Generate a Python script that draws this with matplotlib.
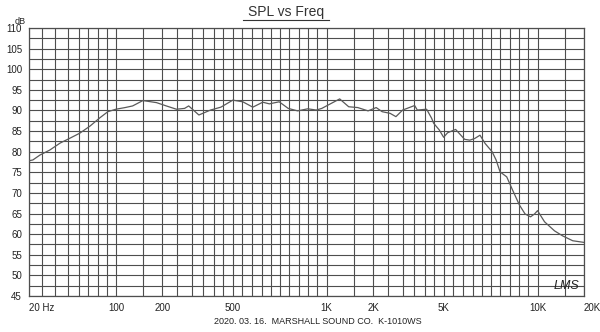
import numpy as np
import matplotlib
matplotlib.use("Agg")
import matplotlib.pyplot as plt
from matplotlib.lines import Line2D

plt.rcParams['font.family'] = ['Liberation Sans', 'DejaVu Sans']

# ---------------- data ----------------
freq_hz = [20, 23, 28.5, 36, 44, 52, 61, 72, 82, 91, 100, 117, 131, 150, 185, 213,
           247, 275, 289, 332, 385, 439, 500, 555, 605, 655, 690, 744, 794, 844,
           900, 945, 974, 1240, 1407, 1605, 1868, 2100, 2300, 2567, 2767, 3000,
           3545, 3667, 4111, 4389, 4500, 4778, 5000, 5222, 5650, 6100, 6361, 6611,
           6889, 7167, 7556, 7778, 8000, 8350, 8667, 9042, 9342, 9632, 9842, 10000,
           11296, 13148, 14630, 17105, 20000]
spl_db = [77.8, 78.0, 79.2, 80.4, 82.1, 83.3, 84.5, 86.2, 88.2, 89.7, 90.3, 90.7,
          91.1, 92.4, 91.9, 91.1, 90.3, 90.5, 91.1, 88.9, 90.1, 90.8, 92.5, 92.1,
          90.8, 92.0, 91.6, 92.1, 90.5, 89.9, 90.4, 90.1, 90.5, 92.8, 90.9, 90.7,
          89.9, 90.7, 89.7, 89.3, 88.5, 90.1, 91.2, 90.1, 90.3, 88.1, 86.9, 85.3,
          83.5, 84.6, 85.4, 83.0, 82.8, 83.2, 84.0, 82.0, 80.0, 78.0, 75.1, 73.9,
          70.7, 67.1, 64.9, 64.2, 64.9, 65.7, 63.0, 60.8, 59.6, 58.4, 58.0]

x_tick_freqs = [20, 100, 200, 500, 1000, 2000, 5000, 10000, 20000]
x_tick_labels = ['20 Hz', '100', '200', '500', '1K', '2K', '5K', '10K', '20K']
y_tick_values = list(range(45, 111, 5))
y_tick_labels = [str(v) for v in y_tick_values]

title_text = 'SPL vs Freq'
footer_text = '2020. 03. 16.  MARSHALL SOUND CO.  K-1010WS'

# ------------- chart's frequency scale (grid of the printed chart) -------------
low_freqs = [20, 30, 40, 50, 60, 70, 80, 90]
low_pos = [0, 13, 26, 39, 50, 59, 69, 78]
mant = [1, 1.5, 2, 2.5, 3, 3.5, 4, 4.5, 5, 5.5, 6, 6.5, 7, 7.5, 8, 8.5, 9, 9.5]
mant_pos = [0, 27, 46.5, 61.5, 76, 87, 98, 107, 117, 126, 136, 146, 155.5,
            164.5, 173.5, 183, 192, 201.5]
DEC = 211.0
anchor_f = list(low_freqs)
anchor_p = list(low_pos)
for k, base in enumerate([100, 1000]):
    for m, p in zip(mant, mant_pos):
        anchor_f.append(base * m)
        anchor_p.append(87 + k * DEC + p)
for m, p in zip(mant[:3], mant_pos[:3]):
    anchor_f.append(10000 * m)
    anchor_p.append(87 + 2 * DEC + p)
anchor_f = np.array(anchor_f, float)
anchor_p = np.array(anchor_p, float)
grid_freqs = anchor_f.copy()


def fwd(f):
    return np.interp(np.asarray(f, float), anchor_f, anchor_p)


def inv(p):
    return np.interp(np.asarray(p, float), anchor_p, anchor_f)


# ---------------- figure ----------------
fig = plt.figure(figsize=(6.0, 3.32), dpi=100)
ax = fig.add_axes([29 / 600, 1 - 296 / 332, 555 / 600, 268 / 332])
ax.set_xscale('function', functions=(fwd, inv))
ax.set_xlim(20, 20000)
ax.set_ylim(45, 110)

gcol = '#4e4e4e'
ax.set_xticks(x_tick_freqs)
ax.set_xticklabels(x_tick_labels)
ax.set_xticks(grid_freqs, minor=True)
ax.set_yticks(y_tick_values)
ax.set_yticklabels(y_tick_labels)
ax.set_yticks(np.arange(47.5, 110, 5), minor=True)
ax.tick_params(which='both', length=0)
ax.tick_params(axis='x', pad=5, labelsize=7, labelcolor='#222222')
ax.tick_params(axis='y', pad=5, labelsize=7, labelcolor='#222222')
ax.grid(True, which='both', color=gcol, lw=0.8)
for s in ax.spines.values():
    s.set_color(gcol)
    s.set_linewidth(0.9)

xl = ax.get_xticklabels()
xl[0].set_ha('left')
xl[-1].set_ha('left')

ax.plot(freq_hz, spl_db, color='#5a5a5a', lw=0.9, zorder=3)

ax.text(0.968, 0.036, 'LMS', transform=ax.transAxes, ha='center', va='center',
        fontsize=9, style='italic', color='#222222', zorder=4)

fig.text(20 / 600, 1 - 21 / 332, 'dB', ha='center', va='center', fontsize=6.5,
         color='#222222')
fig.text(286 / 600, 1 - 12 / 332, title_text, ha='center', va='center',
         fontsize=10, color='#333333')
fig.add_artist(Line2D([243 / 600, 329 / 600], [1 - 19.5 / 332, 1 - 19.5 / 332],
                      transform=fig.transFigure, color='#333333', lw=0.8))
fig.text(318 / 600, 1 - 321 / 332, footer_text, ha='center', va='center',
         fontsize=6.5, color='#222222')

fig.savefig('out.png', dpi=100, facecolor='white')
